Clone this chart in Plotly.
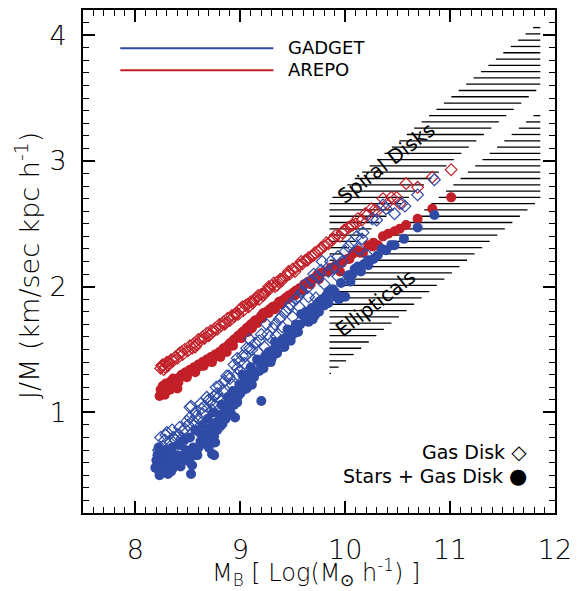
import plotly.graph_objects as go

# ---------------- data ----------------
arepo_gas_x = [8.24, 8.25, 8.26, 8.27, 8.28, 8.29, 8.30, 8.32, 8.34, 8.36, 8.38, 8.40, 8.42, 8.45, 8.47,
               8.50, 8.52, 8.54, 8.56, 8.58, 8.60, 8.62, 8.64, 8.66, 8.68, 8.70, 8.72, 8.74, 8.76,
               8.78, 8.80, 8.82, 8.84, 8.86, 8.88, 8.90, 8.92, 8.94, 8.96, 8.98, 9.00, 9.03, 9.05,
               9.08, 9.10, 9.12, 9.15, 9.18, 9.20, 9.23, 9.25, 9.28, 9.30, 9.33, 9.36, 9.38, 9.41,
               9.44, 9.47, 9.50, 9.53, 9.56, 9.59, 9.62, 9.65, 9.68, 9.71, 9.74, 9.77, 9.80, 9.84,
               9.87, 9.91, 9.95, 9.99, 10.03, 10.07, 10.12, 10.16, 10.21, 10.25, 10.30, 10.36,
               10.40, 10.44, 10.49, 10.52, 10.58, 10.69, 10.83, 11.01,
               8.31, 8.44, 8.57, 8.71, 8.85, 8.95, 9.02, 9.07, 9.13, 9.17, 9.22, 9.27, 9.32, 9.35,
               9.40, 9.46, 9.52, 9.58, 9.64, 9.70, 9.76, 9.82, 9.89, 9.97, 10.05, 10.10, 10.19, 10.28]
arepo_gas_y = [1.35, 1.37, 1.38, 1.34, 1.36, 1.39, 1.40, 1.39, 1.42, 1.41, 1.44, 1.43, 1.47, 1.46, 1.50,
               1.49, 1.53, 1.51, 1.55, 1.54, 1.58, 1.57, 1.60, 1.59, 1.63, 1.61, 1.65, 1.64, 1.67,
               1.66, 1.70, 1.69, 1.72, 1.71, 1.75, 1.73, 1.77, 1.76, 1.79, 1.78, 1.82, 1.81, 1.85,
               1.84, 1.88, 1.87, 1.91, 1.90, 1.94, 1.95, 1.97, 1.98, 2.01, 2.00, 2.04, 2.06, 2.07,
               2.09, 2.10, 2.14, 2.15, 2.17, 2.18, 2.21, 2.23, 2.24, 2.27, 2.28, 2.31, 2.32, 2.34,
               2.37, 2.41, 2.40, 2.45, 2.47, 2.49, 2.54, 2.53, 2.57, 2.62, 2.60, 2.70,
               2.66, 2.71, 2.71, 2.66, 2.82, 2.79, 2.87, 2.93,
               1.37, 1.48, 1.52, 1.62, 1.70, 1.78, 1.84, 1.86, 1.89, 1.93, 1.93, 2.00, 2.03, 2.01,
               2.05, 2.12, 2.12, 2.20, 2.21, 2.25, 2.29, 2.35, 2.38, 2.43, 2.48, 2.50, 2.58, 2.61]

arepo_all_x = [8.23, 8.24, 8.25, 8.26, 8.27, 8.29, 8.30, 8.32, 8.34, 8.36, 8.37, 8.39, 8.40, 8.42, 8.44,
               8.46, 8.48, 8.50, 8.52, 8.54, 8.56, 8.58, 8.60, 8.62, 8.64, 8.66, 8.68, 8.70, 8.72,
               8.74, 8.76, 8.78, 8.80, 8.82, 8.84, 8.86, 8.88, 8.90, 8.92, 8.94, 8.96, 8.98, 9.00,
               9.02, 9.04, 9.06, 9.08, 9.10, 9.12, 9.14, 9.17, 9.20, 9.22, 9.25, 9.28, 9.31, 9.34,
               9.37, 9.40, 9.43, 9.46, 9.50, 9.53, 9.57, 9.61, 9.65, 9.69, 9.73, 9.77, 9.81, 9.86,
               9.91, 9.95, 9.97, 10.02, 10.07, 10.12, 10.17, 10.22, 10.27, 10.31, 10.36, 10.41,
               10.47, 10.52, 10.58, 10.69, 10.83, 11.01,
               8.28, 8.33, 8.41, 8.49, 8.57, 8.65, 8.73, 8.81, 8.87, 8.93, 9.01, 9.07, 9.11, 9.16,
               9.21, 9.27, 9.33, 9.39, 9.45, 9.52, 9.59, 9.67, 9.75, 9.84, 9.93, 10.04, 10.14, 10.26]
arepo_all_y = [1.13, 1.18, 1.15, 1.21, 1.16, 1.23, 1.19, 1.22, 1.25, 1.27, 1.20, 1.26, 1.19, 1.28, 1.30,
               1.29, 1.32, 1.31, 1.34, 1.33, 1.36, 1.35, 1.38, 1.37, 1.40, 1.39, 1.42, 1.41, 1.44,
               1.43, 1.46, 1.45, 1.48, 1.47, 1.51, 1.50, 1.53, 1.55, 1.56, 1.58, 1.59, 1.61, 1.62,
               1.64, 1.65, 1.67, 1.68, 1.70, 1.71, 1.73, 1.74, 1.77, 1.79, 1.80, 1.82, 1.84, 1.85,
               1.88, 1.89, 1.91, 1.93, 1.95, 1.97, 1.99, 2.02, 2.04, 2.06, 2.09, 2.11, 2.12, 2.15,
               2.17, 2.12, 2.19, 2.22, 2.26, 2.29, 2.27, 2.33, 2.35, 2.33, 2.40, 2.42,
               2.44, 2.46, 2.49, 2.54, 2.62, 2.71,
               1.14, 1.18, 1.24, 1.28, 1.32, 1.37, 1.40, 1.44, 1.48, 1.53, 1.59, 1.64, 1.67, 1.71,
               1.75, 1.79, 1.82, 1.86, 1.90, 1.93, 1.97, 2.02, 2.06, 2.12, 2.16, 2.22, 2.27, 2.32]

gadget_gas_x = [8.22, 8.23, 8.24, 8.26, 8.28, 8.30, 8.33, 8.35, 8.38, 8.40, 8.42, 8.44, 8.47, 8.47,
                8.50, 8.52, 8.52, 8.53, 8.55, 8.57, 8.60, 8.62, 8.64, 8.66, 8.68, 8.71, 8.73, 8.75,
                8.77, 8.78, 8.80, 8.82, 8.83, 8.85, 8.87, 8.89, 8.92, 8.94, 8.97, 8.97, 8.97, 9.00,
                9.02, 9.04, 9.06, 9.09, 9.09, 9.12, 9.14, 9.17, 9.20, 9.23, 9.25, 9.28, 9.31, 9.34,
                9.37, 9.40, 9.43, 9.46, 9.50, 9.53, 9.56, 9.59, 9.62, 9.65, 9.68, 9.72, 9.74, 9.77,
                9.78, 9.80, 9.84, 9.86, 9.89, 9.93, 9.93, 9.97, 10.00, 10.03, 10.06, 10.11, 10.13,
                10.16, 10.17, 10.21, 10.26, 10.30, 10.36, 10.39, 10.47, 10.54, 10.57, 10.69, 10.85,
                8.25, 8.29, 8.36, 8.45, 8.49, 8.58, 8.63, 8.70, 8.74, 8.79, 8.90, 8.99, 9.05, 9.11,
                9.18, 9.26, 9.33, 9.39, 9.48, 9.55, 9.64, 9.70]
gadget_gas_y = [0.70, 0.62, 0.80, 0.73, 0.78, 0.84, 0.76, 0.86, 0.78, 0.82, 0.88, 0.79, 0.87, 0.78,
                0.90, 0.96, 1.04, 1.05, 0.93, 1.00, 0.95, 1.07, 0.99, 1.05, 1.12, 1.08, 1.02, 1.13,
                1.20, 1.15, 1.21, 1.10, 1.17, 1.25, 1.29, 1.29, 1.22, 1.38, 1.30, 1.35, 1.43, 1.33,
                1.45, 1.39, 1.51, 1.51, 1.58, 1.42, 1.55, 1.48, 1.62, 1.52, 1.70, 1.60, 1.67, 1.61,
                1.74, 1.68, 1.80, 1.83, 1.76, 1.90, 1.84, 1.96, 2.02, 1.92, 2.05, 1.91, 2.08, 2.13,
                2.20, 2.02, 2.12, 2.20, 2.15, 2.24, 2.08, 2.20, 2.28, 2.32, 2.35, 2.40, 2.30,
                2.38, 2.43, 2.25, 2.54, 2.53, 2.65, 2.62, 2.58, 2.66, 2.64, 2.73, 2.85,
                0.68, 0.82, 0.80, 0.85, 0.93, 0.97, 1.03, 1.10, 1.07, 1.12, 1.27, 1.40, 1.45, 1.50,
                1.57, 1.62, 1.70, 1.76, 1.86, 1.92, 1.99, 2.10]

gadget_all_x = [8.19, 8.20, 8.21, 8.22, 8.22, 8.24, 8.25, 8.27, 8.28, 8.30, 8.31, 8.32, 8.33, 8.35,
                8.36, 8.38, 8.40, 8.42, 8.45, 8.46, 8.48, 8.50, 8.52, 8.53, 8.54, 8.55, 8.57, 8.59,
                8.61, 8.62, 8.64, 8.66, 8.67, 8.69, 8.70, 8.72, 8.73, 8.74, 8.75, 8.75, 8.76, 8.78,
                8.80, 8.82, 8.83, 8.85, 8.86, 8.88, 8.90, 8.92, 8.93, 8.95, 8.97, 8.99, 9.00, 9.02,
                9.04, 9.06, 9.08, 9.10, 9.13, 9.16, 9.18, 9.20, 9.22, 9.25, 9.27, 9.30, 9.33, 9.35,
                9.37, 9.40, 9.42, 9.45, 9.48, 9.50, 9.53, 9.55, 9.58, 9.62, 9.65, 9.68, 9.71, 9.75,
                9.75, 9.78, 9.80, 9.84, 9.84, 9.88, 9.91, 9.94, 9.97, 10.00, 10.03, 10.05, 10.09,
                10.12, 10.15, 10.22, 10.22, 10.27, 10.31, 10.35, 10.39, 10.44, 10.47, 10.56, 10.69,
                10.85,
                8.21, 8.23, 8.26, 8.29, 8.34, 8.37, 8.43, 8.47, 8.51, 8.56, 8.60, 8.63, 8.68, 8.71,
                8.77, 8.81, 8.84, 8.87, 8.91, 8.94, 8.98, 9.03, 9.07, 9.11, 9.15, 9.19, 9.24, 9.29,
                9.32, 9.38, 9.44, 9.51, 9.57, 9.63, 9.69, 9.73, 9.82, 9.90, 9.96, 10.07, 10.18]
gadget_all_y = [0.56, 0.62, 0.66, 0.54, 0.72, 0.69, 0.60, 0.55, 0.64, 0.58, 0.51, 0.68, 0.62, 0.72,
                0.56, 0.60, 0.66, 0.74, 0.63, 0.78, 0.70, 0.68, 0.80, 0.51, 0.58, 0.72, 0.86, 0.66,
                0.84, 0.77, 0.90, 0.75, 0.82, 0.95, 0.72, 0.88, 0.67, 1.00, 0.66, 0.81, 0.76, 0.86,
                0.98, 1.06, 0.91, 1.04, 0.95, 1.12, 1.02, 1.11, 1.17, 0.96, 1.08, 1.22, 1.15, 1.30,
                1.27, 1.19, 1.24, 1.36, 1.28, 1.42, 1.33, 1.09, 1.35, 1.40, 1.48, 1.43, 1.56, 1.47,
                1.51, 1.58, 1.52, 1.66, 1.57, 1.62, 1.70, 1.64, 1.78, 1.75, 1.72, 1.83, 1.77, 1.88,
                1.80, 1.90, 1.85, 1.96, 1.87, 1.98, 1.92, 1.90, 1.92, 1.92, 2.09, 2.04, 2.14,
                2.16, 2.12, 2.17, 2.21, 2.22, 2.25, 2.30, 2.29, 2.33, 2.33, 2.38, 2.47,
                2.57,
                0.59, 0.50, 0.66, 0.70, 0.53, 0.64, 0.57, 0.66, 0.61, 0.66, 0.72, 0.84, 0.78, 0.85,
                0.92, 0.89, 0.98, 1.06, 0.99, 1.06, 1.13, 1.18, 1.30, 1.22, 1.32, 1.39, 1.45, 1.40,
                1.50, 1.55, 1.60, 1.66, 1.70, 1.80, 1.74, 1.86, 1.93, 1.96, 2.03, 2.10, 2.18]

# observational regions (hatched with horizontal lines)
band_names = ["Spiral Disks", "Ellipticals"]
band_x_left = [9.85, 9.85]
band_x_right = [11.86, 11.86]
band_lower_left = [2.18, 1.30]
band_lower_slope = [0.70, 0.694]
band_upper_left = [2.69, 1.96]
band_upper_slope = [0.706, 0.72]
hatch_y_start = 1.31
hatch_y_step = 0.05
hatch_count = 57

x_ticks = [8, 9, 10, 11, 12]
y_ticks = [1, 2, 3, 4]

BLUE = "#2F4BA6"
RED = "#C21F28"

# ---------------- hatch segments ----------------
hx, hy = [], []
for k in range(hatch_count):
    yv = hatch_y_start + k * hatch_y_step
    for b in range(len(band_names)):
        xl, xr = band_x_left[b], band_x_right[b]
        lo = max(xl, xl + (yv - band_upper_left[b]) / band_upper_slope[b])
        hi = min(xr, xl + (yv - band_lower_left[b]) / band_lower_slope[b])
        if hi > lo:
            hx += [lo, hi, None]
            hy += [yv, yv, None]

fig = go.Figure()
fig.add_trace(go.Scatter(x=hx, y=hy, mode="lines", line=dict(color="black", width=1.3),
                         hoverinfo="skip", showlegend=False))

def pts(x, y, color, symbol, size, lw):
    return go.Scatter(x=x, y=y, mode="markers", showlegend=False,
                      marker=dict(symbol=symbol, size=size, color=color,
                                  line=dict(width=lw, color=color)))

fig.add_trace(pts(arepo_gas_x, arepo_gas_y, RED, "diamond-open", 9, 1.2))
fig.add_trace(pts(arepo_all_x, arepo_all_y, RED, "circle", 10, 0))
fig.add_trace(pts(gadget_all_x, gadget_all_y, BLUE, "circle", 10, 0))
fig.add_trace(pts(gadget_gas_x, gadget_gas_y, BLUE, "diamond-open", 9, 1.2))

FONT = "DejaVu Sans"

def f(size, w=200):
    return dict(family=FONT, size=size, color="black", weight=w)

axis_common = dict(showline=True, linecolor="black", linewidth=2, mirror="allticks",
                   ticks="inside", ticklen=12, tickwidth=1.5, tickcolor="black",
                   showgrid=False, zeroline=False,
                   tickfont=f(27), ticklabeloverflow="allow",
                   minor=dict(dtick=0.1, ticks="inside", ticklen=6, tickwidth=1.2,
                              tickcolor="black", showgrid=False))

fig.update_xaxes(range=[7.5, 12], tickvals=x_ticks, ticktext=[str(v) for v in x_ticks],
                 ticklabelstandoff=12, **axis_common)
fig.update_yaxes(range=[0.2, 4.2], tickvals=y_ticks, ticktext=[str(v) for v in y_ticks],
                 ticklabelstandoff=9, **axis_common)

ann = []
ann.append(dict(text="J/M (km/sec kpc h<sup>-1</sup>)", xref="paper", yref="paper",
                x=(27 - 83) / 481, y=(513 - 265) / 505, xanchor="center", yanchor="middle",
                textangle=-90, showarrow=False, font=f(27)))
ann.append(dict(text="M<sub>B</sub> [ Log(M<sub>⊙</sub> h<sup>-1</sup>) ]", xref="paper", yref="paper",
                x=(320 - 83) / 481, y=(513 - 573) / 505, showarrow=False, xanchor="center",
                yanchor="middle", font=f(24)))
ann.append(dict(text="Spiral Disks", x=10.39, y=2.98, textangle=-38, showarrow=False, font=f(20, 400)))
ann.append(dict(text="Ellipticals", x=10.29, y=1.87, textangle=-38, showarrow=False, font=f(20, 400)))
ann.append(dict(text="GADGET", xref="paper", yref="paper", x=(290 - 83) / 481, y=(513 - 46) / 505,
                xanchor="left", yanchor="middle", showarrow=False, font=f(18, 400)))
ann.append(dict(text="AREPO", xref="paper", yref="paper", x=(290 - 83) / 481, y=(513 - 68) / 505,
                xanchor="left", yanchor="middle", showarrow=False, font=f(18, 400)))
ann.append(dict(text="Gas Disk <span style='font-size:20px'>◇</span>", xref="paper", yref="paper",
                x=(538 - 83) / 481, y=(513 - 452) / 505,
                xanchor="right", yanchor="middle", showarrow=False, font=f(19, 400)))
ann.append(dict(text="Stars + Gas Disk <span style='font-size:21px'>●</span>", xref="paper", yref="paper",
                x=(538 - 83) / 481, y=(513 - 476) / 505, xanchor="right", yanchor="middle",
                showarrow=False, font=f(19, 400)))

shapes = [
    dict(type="line", xref="paper", yref="paper", x0=(121 - 83) / 481, x1=(277 - 83) / 481,
         y0=(513 - 46.5) / 505, y1=(513 - 46.5) / 505, line=dict(color=BLUE, width=2)),
    dict(type="line", xref="paper", yref="paper", x0=(121 - 83) / 481, x1=(277 - 83) / 481,
         y0=(513 - 68.5) / 505, y1=(513 - 68.5) / 505, line=dict(color=RED, width=2)),
]

fig.update_layout(width=580, height=591, margin=dict(l=83, r=16, t=8, b=78),
                  paper_bgcolor="white", plot_bgcolor="white", annotations=ann, shapes=shapes,
                  showlegend=False)

fig.write_html("out.html")
